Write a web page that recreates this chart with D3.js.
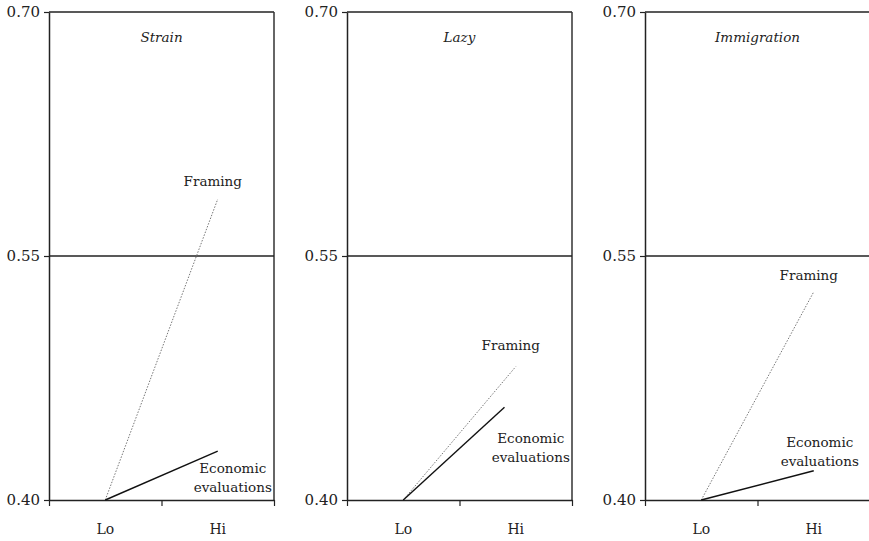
<!DOCTYPE html>
<html>
<head>
<meta charset="utf-8">
<script src="https://cdn.jsdelivr.net/npm/d3@7"></script>
<style>
  body { margin: 0; background: #fff; }
  svg { display: block; }
</style>
</head>
<body>
<svg width="869" height="541"></svg>
<script>
// panels and values
const panels = ["Strain", "Lazy", "Immigration"];
const levels = ["Lo", "Hi"];
const yTicks = [0.40, 0.55, 0.70];

// x positions on a 0..2 axis: Lo = 0.5, Hi = 1.5
const framingX = [[0.5, 1.5], [0.5, 1.5], [0.5, 1.5]];
const framingY = [[0.40, 0.585], [0.40, 0.482], [0.40, 0.528]];
const econX = [[0.5, 1.5], [0.5, 1.4], [0.5, 1.5]];
const econY = [[0.40, 0.430], [0.40, 0.457], [0.40, 0.418]];

// label anchors (data units)
const framingLabelY = [0.593, 0.492, 0.535];
const econLabelY = [0.4166, 0.435, 0.4326];

const FONT = "'DejaVu Serif', serif";

const svg = d3.select("svg");
const plotTop = 12, plotBottom = 500, panelW = 225, firstLeft = 49, step = 298;

const y = d3.scaleLinear().domain([0.40, 0.70]).range([plotBottom, plotTop]);

const label = (sel) => sel
  .attr("font-family", FONT)
  .attr("font-size", 13.5)
  .attr("fill", "#222");

panels.forEach((name, i) => {
  const left = firstLeft + i * step;
  const x = d3.scaleLinear().domain([0, 2]).range([left, left + panelW]);
  const g = svg.append("g");

  // frame: top, right, and 0.55 rule
  g.append("line")
    .attr("x1", left).attr("x2", left + panelW)
    .attr("y1", y(0.70)).attr("y2", y(0.70))
    .attr("stroke", "#222").attr("stroke-width", 1.5);
  g.append("line")
    .attr("x1", left + panelW).attr("x2", left + panelW)
    .attr("y1", y(0.70)).attr("y2", y(0.40))
    .attr("stroke", "#333").attr("stroke-width", 1.5);
  g.append("line")
    .attr("x1", left).attr("x2", left + panelW)
    .attr("y1", y(0.55)).attr("y2", y(0.55))
    .attr("stroke", "#222").attr("stroke-width", 1.5);

  // y axis
  const yAxis = g.append("g")
    .attr("transform", `translate(${left},0)`)
    .call(d3.axisLeft(y).tickValues(yTicks).tickFormat(d3.format(".2f")).tickSize(5).tickPadding(4).tickSizeOuter(0));
  yAxis.attr("font-family", FONT).attr("font-size", 15);
  yAxis.select(".domain").attr("stroke", "#222").attr("stroke-width", 1.5);
  yAxis.selectAll(".tick line").attr("stroke", "#222").attr("stroke-width", 1.2);
  yAxis.selectAll(".tick text").attr("fill", "#222");

  // x axis: boundary ticks at 0, 1, 2, labels at 0.5 and 1.5
  const xAxis = g.append("g")
    .attr("transform", `translate(0,${plotBottom})`)
    .call(d3.axisBottom(x).tickValues([0, 1, 2]).tickFormat("").tickSize(6).tickSizeOuter(0));
  xAxis.select(".domain").attr("stroke", "#222").attr("stroke-width", 1.5);
  xAxis.selectAll(".tick line").attr("stroke", "#222").attr("stroke-width", 1.2);

  g.selectAll(".lvl")
    .data(levels)
    .join("text")
    .attr("x", (d, j) => x(j + 0.5))
    .attr("y", plotBottom + 34)
    .attr("text-anchor", "middle")
    .call(label)
    .attr("font-size", 14)
    .text(d => d);

  // panel title
  g.append("text")
    .attr("x", left + panelW / 2)
    .attr("y", 42)
    .attr("text-anchor", "middle")
    .call(label)
    .attr("font-style", "italic")
    .text(name);

  const line = d3.line().x(d => x(d[0])).y(d => y(d[1]));

  g.append("path")
    .datum(d3.zip(framingX[i], framingY[i]))
    .attr("d", line)
    .attr("fill", "none")
    .attr("stroke", "#777")
    .attr("stroke-width", 1)
    .attr("stroke-dasharray", "1.5,1.5");

  g.append("path")
    .datum(d3.zip(econX[i], econY[i]))
    .attr("d", line)
    .attr("fill", "none")
    .attr("stroke", "#111")
    .attr("stroke-width", 1.4);

  g.append("text")
    .attr("x", x(1.5) - 5)
    .attr("y", y(framingLabelY[i]))
    .attr("text-anchor", "middle")
    .call(label)
    .text("Framing");

  const ex = x(1.5) + (i === 2 ? 6 : 15);
  const econLabel = g.append("text")
    .attr("x", ex)
    .attr("y", y(econLabelY[i]))
    .attr("text-anchor", "middle")
    .call(label);
  econLabel.append("tspan").attr("x", ex).text("Economic");
  econLabel.append("tspan").attr("x", ex).attr("dy", 19).text("evaluations");
});
</script>
</body>
</html>
